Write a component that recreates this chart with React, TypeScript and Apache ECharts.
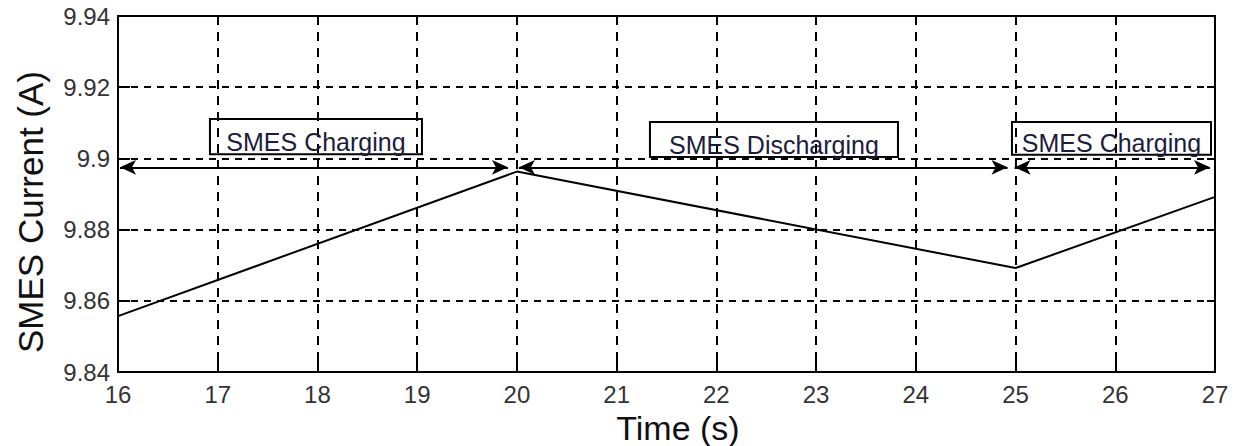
import React, { useEffect, useRef } from "react";
import * as echarts from "echarts";

// Data
const timeValues: number[] = [16, 20, 25, 27];
const currentValues: number[] = [9.8557, 9.8963, 9.8692, 9.8892];

const xTicks = { min: 16, max: 27, interval: 1 };
const yTicks = { min: 9.84, max: 9.94, interval: 0.02 };

// Annotations (data coordinates)
const phaseLabels: string[] = ["SMES Charging", "SMES Discharging", "SMES Charging"];
const phaseBoxX0: number[] = [16.922, 21.334, 24.964];
const phaseBoxX1: number[] = [19.048, 23.821, 26.96];
const phaseBoxY0: number[] = [9.9012, 9.9004, 9.901];
const phaseBoxY1: number[] = [9.9111, 9.9102, 9.9102];
const arrowStart: number[] = [16.02, 20.02, 24.99];
const arrowEnd: number[] = [19.91, 24.92, 26.95];
const arrowY: number[] = [9.8975, 9.8975, 9.8975];

const FONT = "'Liberation Sans', Arial, sans-serif";

export default function App() {
  const ref = useRef<HTMLDivElement>(null);
  useEffect(() => {
    if (!ref.current) return;
    const chart = echarts.init(ref.current, undefined, { renderer: "svg" });
    const option: any = {
      animation: false,
      backgroundColor: "#fff",
      grid: {
        left: 118,
        right: 24,
        top: 16,
        bottom: 74,
        show: true,
        borderColor: "#000",
        borderWidth: 2,
        backgroundColor: "transparent",
      },
      xAxis: [
        {
          type: "value",
          min: xTicks.min,
          max: xTicks.max,
          interval: xTicks.interval,
          axisLine: { show: true, onZero: false, lineStyle: { color: "#000", width: 2 } },
          axisTick: { show: true, inside: true, length: 12, lineStyle: { color: "#000", width: 2 } },
          axisLabel: { color: "#333", fontSize: 24, fontFamily: FONT, margin: 10 },
          splitLine: { show: true, lineStyle: { color: "#000", width: 2, type: [9, 7] } },
        },
        {
          type: "value",
          position: "top",
          min: xTicks.min,
          max: xTicks.max,
          interval: xTicks.interval,
          axisLine: { show: true, onZero: false, lineStyle: { color: "#000", width: 2 } },
          axisTick: { show: true, inside: true, length: 8, lineStyle: { color: "#000", width: 2 } },
          axisLabel: { show: false },
          splitLine: { show: false },
        },
      ],
      yAxis: [
        {
          type: "value",
          min: yTicks.min,
          max: yTicks.max,
          interval: yTicks.interval,
          axisLine: { show: true, onZero: false, lineStyle: { color: "#000", width: 2 } },
          axisTick: { show: true, inside: true, length: 12, lineStyle: { color: "#000", width: 2 } },
          axisLabel: {
            color: "#333",
            fontSize: 24,
            fontFamily: FONT,
            margin: 8,
            formatter: (v: number) => String(parseFloat(v.toFixed(2))),
          },
          splitLine: { show: true, lineStyle: { color: "#000", width: 2, type: [7, 6] } },
        },
        {
          type: "value",
          position: "right",
          min: yTicks.min,
          max: yTicks.max,
          interval: yTicks.interval,
          axisLine: { show: true, onZero: false, lineStyle: { color: "#000", width: 2 } },
          axisTick: { show: true, inside: true, length: 8, lineStyle: { color: "#000", width: 2 } },
          axisLabel: { show: false },
          splitLine: { show: false },
        },
      ],
      graphic: [
        {
          type: "text",
          x: 30,
          y: 212,
          rotation: Math.PI / 2,
          style: {
            text: "SMES Current (A)",
            font: `35px ${FONT}`,
            fill: "#111",
            textAlign: "center",
            textVerticalAlign: "middle",
          },
        },
        {
          type: "text",
          x: 678,
          y: 428,
          style: {
            text: "Time (s)",
            font: `34px ${FONT}`,
            fill: "#111",
            textAlign: "center",
            textVerticalAlign: "middle",
          },
        },
      ],
      series: [
        {
          type: "line",
          data: timeValues.map((t, i) => [t, currentValues[i]]),
          symbol: "none",
          lineStyle: { color: "#000", width: 2 },
          z: 3,
          markLine: {
            silent: true,
            symbol: ["arrow", "arrow"],
            symbolSize: [11, 16],
            label: { show: false },
            lineStyle: { color: "#000", width: 2, type: "solid" },
            data: arrowStart.map((s, i) => [
              { coord: [s, arrowY[i]] },
              { coord: [arrowEnd[i], arrowY[i]] },
            ]),
          },
          markArea: {
            silent: true,
            itemStyle: { color: "rgba(0,0,0,0)", borderColor: "#000", borderWidth: 2 },
            label: {
              show: true,
              position: "inside",
              offset: [0, 5],
              color: "#1c1c3c",
              fontSize: 25,
              fontFamily: FONT,
            },
            data: phaseLabels.map((txt, i) => [
              { name: txt, coord: [phaseBoxX0[i], phaseBoxY1[i]] },
              { coord: [phaseBoxX1[i], phaseBoxY0[i]] },
            ]),
          },
        },
      ],
    };
    chart.setOption(option);
    return () => chart.dispose();
  }, []);
  return (
    <div
      ref={ref}
      style={{ position: "fixed", left: 0, top: 0, width: 1239, height: 446, background: "#fff" }}
    />
  );
}
